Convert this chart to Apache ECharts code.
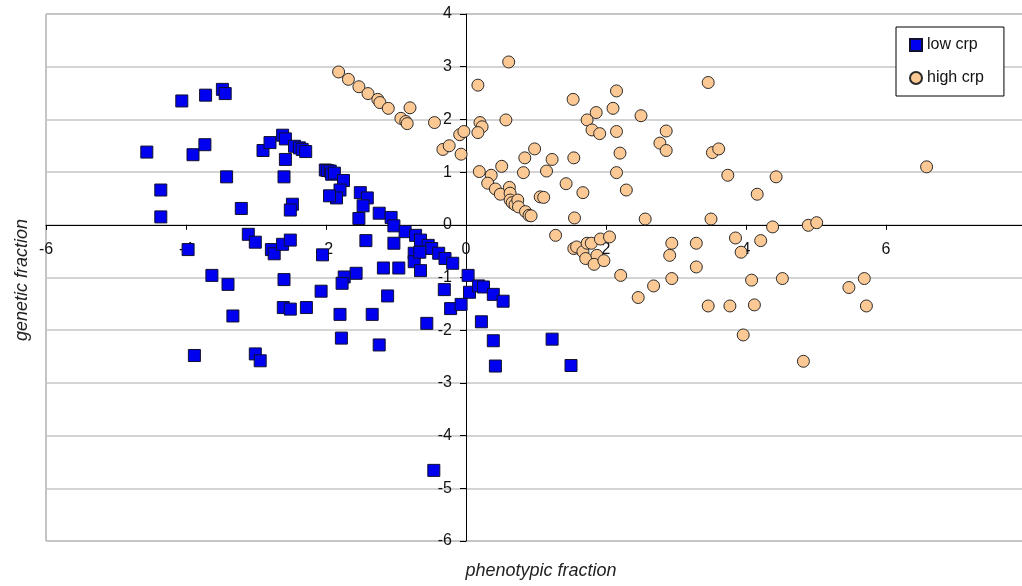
<!DOCTYPE html>
<html>
<head>
<meta charset="utf-8">
<title>genetic vs phenotypic fraction</title>
<script src="https://cdn.jsdelivr.net/npm/echarts@6/dist/echarts.min.js"></script>
<style>
  html, body { margin: 0; padding: 0; background: #fff; }
  #main { width: 1022px; height: 586px; }
</style>
</head>
<body>
<div id="main"></div>
<script>
// 数据 [phenotypic, genetic]
var lowCrp = [
  [-4.56, 1.38], [-4.36, 0.66], [-4.36, 0.15], [-4.06, 2.35], [-3.72, 2.46],
  [-3.48, 2.57], [-3.44, 2.49], [-3.90, 1.33], [-3.73, 1.52], [-3.42, 0.91],
  [-3.21, 0.31], [-2.90, 1.41], [-2.80, 1.56], [-2.62, 1.70], [-2.58, 1.63],
  [-2.45, 1.49], [-2.38, 1.46], [-2.34, 1.43], [-2.29, 1.39], [-2.58, 1.24],
  [-2.60, 0.91], [-2.48, 0.39], [-2.51, 0.28], [-3.97, -0.47], [-3.11, -0.18],
  [-3.01, -0.33], [-2.78, -0.47], [-2.74, -0.55], [-2.62, -0.37], [-2.51, -0.29],
  [-2.05, -0.57], [-3.63, -0.96], [-3.40, -1.13], [-2.60, -1.04], [-2.07, -1.26],
  [-2.61, -1.57], [-2.51, -1.60], [-2.28, -1.57], [-3.33, -1.73], [-3.88, -2.48],
  [-3.01, -2.45], [-2.94, -2.58],
  [-2.01, 1.04], [-1.98, 1.03], [-1.94, 1.02], [-1.92, 0.96], [-1.88, 0.98],
  [-1.75, 0.84], [-1.80, 0.66], [-1.85, 0.51], [-1.95, 0.55], [-1.51, 0.61],
  [-1.41, 0.51], [-1.47, 0.36], [-1.53, 0.12], [-1.24, 0.22], [-1.07, 0.14],
  [-1.03, -0.02], [-0.87, -0.13], [-0.72, -0.20], [-0.65, -0.29], [-0.54, -0.39],
  [-0.49, -0.45], [-0.39, -0.54], [-0.30, -0.64], [-0.19, -0.73], [-1.43, -0.30],
  [-1.03, -0.35], [-0.74, -0.54], [-0.74, -0.70], [-0.66, -0.52], [-0.65, -0.87],
  [-1.18, -0.82], [-0.96, -0.82], [-1.57, -0.92], [-1.74, -0.99], [-1.77, -1.11],
  [-1.12, -1.35], [-1.80, -1.70], [-1.34, -1.70], [-1.78, -2.15], [-1.24, -2.28],
  [-0.56, -1.87], [-0.31, -1.23], [-0.22, -1.59], [-0.07, -1.51], [0.03, -0.96],
  [0.05, -1.28], [0.18, -1.16], [0.25, -1.18], [0.39, -1.32], [0.53, -1.45],
  [0.22, -1.84], [0.39, -2.20], [0.42, -2.68], [1.23, -2.17], [1.50, -2.67],
  [-0.46, -4.66]
];

var highCrp = [
  [-1.82, 2.90], [-1.68, 2.76], [-1.53, 2.62], [-1.40, 2.49], [-1.26, 2.38],
  [-1.23, 2.32], [-1.11, 2.21], [-0.93, 2.02], [-0.86, 1.96], [-0.84, 1.92],
  [-0.80, 2.22], [-0.45, 1.94], [-0.09, 1.71], [-0.03, 1.77], [-0.33, 1.43],
  [-0.24, 1.50], [-0.07, 1.34], [0.17, 2.65], [0.61, 3.09], [0.20, 1.94],
  [0.23, 1.86], [0.17, 1.75], [0.57, 1.99], [0.19, 1.01], [0.36, 0.94],
  [0.51, 1.11], [0.31, 0.79], [0.42, 0.68], [0.49, 0.58], [0.62, 0.71],
  [0.63, 0.60], [0.63, 0.47], [0.66, 0.42], [0.70, 0.38], [0.74, 0.47],
  [0.75, 0.34], [0.85, 0.25], [0.90, 0.18], [0.93, 0.17], [0.82, 0.99],
  [0.84, 1.27], [0.98, 1.44], [1.15, 1.02], [1.23, 1.24], [1.06, 0.53],
  [1.11, 0.52], [1.43, 0.78], [1.54, 1.27], [1.53, 2.38], [1.67, 0.61],
  [1.55, 0.13], [1.73, 1.99], [1.86, 2.13], [1.80, 1.80], [1.91, 1.73],
  [2.15, 2.54], [2.10, 2.21], [2.15, 1.77], [2.20, 1.36], [2.15, 0.99],
  [2.29, 0.66], [2.50, 2.07], [2.86, 1.78], [2.77, 1.55], [2.86, 1.41],
  [3.46, 2.70], [3.52, 1.37], [3.61, 1.44], [3.74, 0.94], [4.43, 0.91],
  [4.16, 0.58], [6.58, 1.10], [2.56, 0.11], [3.50, 0.11], [4.38, -0.04],
  [4.89, -0.01], [5.01, 0.04], [4.21, -0.30], [3.85, -0.25], [3.93, -0.52],
  [2.94, -0.35], [3.29, -0.35], [2.91, -0.58], [3.29, -0.80], [2.94, -1.02],
  [2.68, -1.16], [2.46, -1.38], [2.21, -0.96], [4.08, -1.05], [4.52, -1.02],
  [3.46, -1.54], [3.77, -1.54], [4.12, -1.52], [3.96, -2.09], [4.82, -2.59],
  [5.47, -1.19], [5.69, -1.02], [5.72, -1.54], [1.28, -0.20], [1.54, -0.45],
  [1.58, -0.42], [1.67, -0.51], [1.71, -0.64], [1.73, -0.35], [1.79, -0.35],
  [1.92, -0.27], [2.05, -0.23], [1.87, -0.58], [1.83, -0.75], [1.97, -0.68]
];

var seriesNames = ['low crp', 'high crp'];
var xTitle = 'phenotypic fraction';
var yTitle = 'genetic fraction';

var font = '"Liberation Sans", Arial, sans-serif';
var myChart = echarts.init(document.getElementById('main'));

// 绘图区
var gLeft = 46, gTop = 14, gWidth = 980, gHeight = 527;
var xMin = -6, xMax = 8, yMin = -6, yMax = 4;
// 坐标轴移到 0 处（v6 的 onZero 不会移动刻度标签）
var yAxisOffset = -gWidth * (0 - xMin) / (xMax - xMin);
var xAxisOffset = -gHeight * (0 - yMin) / (yMax - yMin);

var option = {
  animation: false,
  backgroundColor: '#fff',
  grid: {
    left: gLeft, top: gTop, width: gWidth, height: gHeight,
    outerBoundsMode: 'none',
    containLabel: false,
    show: true, borderColor: '#8a8a8a', borderWidth: 1
  },
  legend: {
    data: seriesNames,
    orient: 'vertical',
    left: 896, top: 27,
    padding: [10, 20, 10, 13],
    itemGap: 17,
    itemWidth: 12, itemHeight: 12,
    borderColor: '#000', borderWidth: 1,
    backgroundColor: '#fff',
    textStyle: { fontFamily: font, fontSize: 16, color: '#111' }
  },
  xAxis: {
    type: 'value',
    min: xMin, max: xMax, interval: 2,
    position: 'bottom', offset: xAxisOffset,
    axisLine: { onZero: false, lineStyle: { color: '#000', width: 1 } },
    axisTick: { show: true, length: 5, lineStyle: { color: '#000' } },
    axisLabel: { margin: 17, fontFamily: font, fontSize: 16, color: '#111' },
    splitLine: { show: false }
  },
  yAxis: {
    type: 'value',
    min: yMin, max: yMax, interval: 1,
    position: 'left', offset: yAxisOffset,
    axisLine: { onZero: false, lineStyle: { color: '#000', width: 1 } },
    axisTick: { show: true, length: 6, lineStyle: { color: '#000' } },
    axisLabel: { margin: 14, fontFamily: font, fontSize: 16, color: '#111' },
    splitLine: { show: true, lineStyle: { color: '#c6c6c6', width: 1.5 } }
  },
  graphic: [
    {
      type: 'text', x: 22, y: 280, rotation: Math.PI / 2,
      style: {
        text: yTitle, font: 'italic 18px ' + font, fill: '#222',
        textAlign: 'center', textVerticalAlign: 'middle'
      }
    },
    {
      type: 'text', x: 541, y: 571,
      style: {
        text: xTitle, font: 'italic 18px ' + font, fill: '#222',
        textAlign: 'center', textVerticalAlign: 'middle'
      }
    }
  ],
  series: [
    {
      name: seriesNames[0],
      type: 'scatter',
      symbol: 'rect',
      symbolSize: 12,
      itemStyle: { color: '#0000f0', borderColor: '#101030', borderWidth: 1, opacity: 1 },
      data: lowCrp
    },
    {
      name: seriesNames[1],
      type: 'scatter',
      symbol: 'circle',
      symbolSize: 12,
      itemStyle: { color: '#fcc994', borderColor: '#2a2a2a', borderWidth: 1, opacity: 1 },
      data: highCrp
    }
  ]
};

myChart.setOption(option);
</script>
</body>
</html>
